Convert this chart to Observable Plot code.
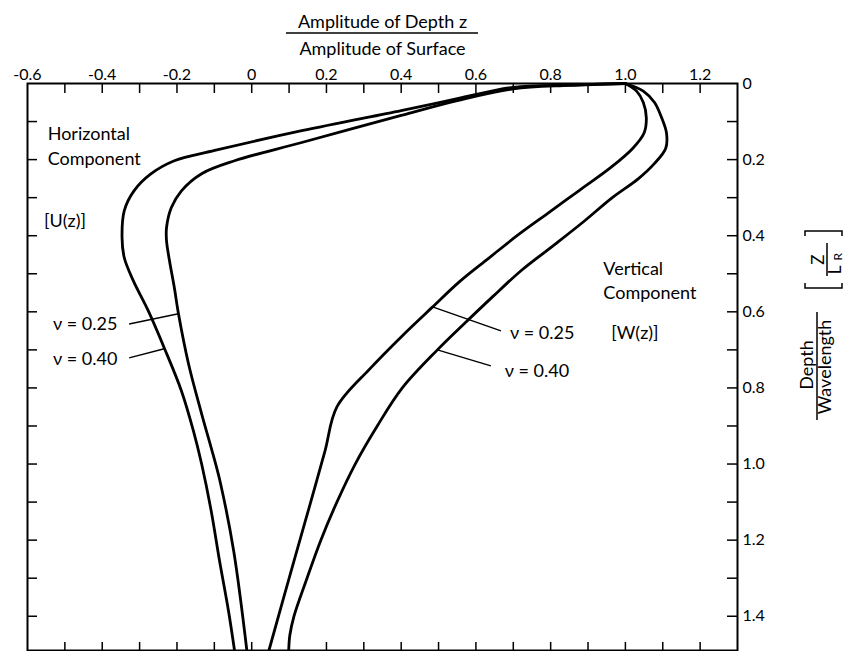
<!DOCTYPE html>
<html><head><meta charset="utf-8">
<script src="https://cdn.jsdelivr.net/npm/d3@7"></script>
<script src="https://cdn.jsdelivr.net/npm/@observablehq/plot@0.6"></script>
<style>
  html,body{margin:0;padding:0;background:#fff;}
  #chart svg{display:block;}
</style>
</head><body><div id="chart"></div>
<script>
// ---- Data (amplitude ratio vs depth/wavelength) ----
// Horizontal component U(z), Poisson's ratio 0.40 (outer curve)
const depthU40 = [0, 0.004, 0.010, 0.040, 0.071, 0.124, 0.176, 0.203, 0.237, 0.282, 0.334, 0.405, 0.458, 0.518, 0.597, 0.695, 0.808, 0.913, 1.0, 1.12, 1.255, 1.387, 1.49];
const ampU40   = [1.0, 0.85, 0.70, 0.55, 0.40, 0.134, -0.099, -0.207, -0.269, -0.315, -0.341, -0.347, -0.341, -0.317, -0.277, -0.234, -0.188, -0.156, -0.134, -0.109, -0.086, -0.062, -0.046];
// Horizontal component U(z), Poisson's ratio 0.25 (inner curve)
const depthU25 = [0, 0.005, 0.014, 0.045, 0.084, 0.155, 0.203, 0.237, 0.282, 0.326, 0.379, 0.413, 0.466, 0.537, 0.605, 0.737, 0.868, 0.98, 1.053, 1.23, 1.49];
const ampU25   = [1.0, 0.85, 0.70, 0.55, 0.40, 0.134, -0.046, -0.134, -0.188, -0.215, -0.228, -0.228, -0.220, -0.207, -0.196, -0.169, -0.134, -0.102, -0.083, -0.048, -0.013];
// Vertical component W(z), Poisson's ratio 0.25 (inner curve)
const depthW25 = [0, 0.02, 0.05, 0.09, 0.13, 0.17, 0.22, 0.28, 0.34, 0.40, 0.46, 0.52, 0.589, 0.658, 0.75, 0.85, 0.966, 1.11, 1.255, 1.49];
const ampW25   = [1.0, 1.03, 1.048, 1.056, 1.05, 1.02, 0.962, 0.878, 0.794, 0.71, 0.633, 0.557, 0.482, 0.408, 0.316, 0.228, 0.196, 0.155, 0.113, 0.046];
// Vertical component W(z), Poisson's ratio 0.40 (outer curve)
const depthW40 = [0, 0.02, 0.05, 0.09, 0.13, 0.17, 0.21, 0.25, 0.30, 0.36, 0.42, 0.49, 0.56, 0.63, 0.70, 0.80, 0.90, 1.0, 1.10, 1.20, 1.30, 1.40, 1.45, 1.49];
const ampW40   = [1.0, 1.048, 1.078, 1.097, 1.110, 1.108, 1.078, 1.035, 0.965, 0.892, 0.815, 0.723, 0.645, 0.570, 0.497, 0.403, 0.336, 0.277, 0.228, 0.185, 0.148, 0.113, 0.102, 0.099];

// Axis ticks and labels
const xTickValues = [-0.6, -0.4, -0.2, 0, 0.2, 0.4, 0.6, 0.8, 1.0, 1.2];
const xTickLabels = ["-0.6", "-0.4", "-0.2", "0", "0.2", "0.4", "0.6", "0.8", "1.0", "1.2"];
const xMinorTicks = [-0.5, -0.4, -0.3, -0.2, -0.1, 0, 0.1, 0.2, 0.3, 0.4, 0.5, 0.6, 0.7, 0.8, 0.9, 1.0, 1.1, 1.2];
const yTickValues = [0, 0.2, 0.4, 0.6, 0.8, 1.0, 1.2, 1.4];
const yTickLabels = ["0", "0.2", "0.4", "0.6", "0.8", "1.0", "1.2", "1.4"];
const yMinorTicks = [0.1, 0.2, 0.3, 0.4, 0.5, 0.6, 0.7, 0.8, 0.9, 1.0, 1.1, 1.2, 1.3, 1.4];

// Annotations (positions in data units: amplitude, depth)
const noteText  = ["Horizontal", "Component", "[U(z)]", "ν = 0.25", "ν = 0.40", "Vertical", "Component", "[W(z)]", "ν = 0.25", "ν = 0.40"];
const noteAmp   = [-0.546, -0.546, -0.556, -0.532, -0.532, 0.941, 0.941, 0.962, 0.691, 0.677];
const noteDepth = [0.134, 0.200, 0.361, 0.632, 0.724, 0.487, 0.550, 0.655, 0.655, 0.755];
// Leader lines from labels to curves
const leadAmp1   = [-0.328, -0.328, 0.484, 0.497];
const leadDepth1 = [0.632, 0.721, 0.587, 0.700];
const leadAmp2   = [-0.196, -0.234, 0.667, 0.640];
const leadDepth2 = [0.605, 0.697, 0.650, 0.742];

// ---- Build tables ----
const series = [
  ["U, ν=0.40", depthU40, ampU40],
  ["U, ν=0.25", depthU25, ampU25],
  ["W, ν=0.25", depthW25, ampW25],
  ["W, ν=0.40", depthW40, ampW40]
];
const curves = series.flatMap(([name, D, A]) => D.map((d, i) => ({series: name, depth: d, amp: A[i]})));
const notes = noteText.map((t, i) => ({text: t, amp: noteAmp[i], depth: noteDepth[i]}));
const leaders = leadAmp1.map((a, i) => ({x1: a, y1: leadDepth1[i], x2: leadAmp2[i], y2: leadDepth2[i]}));
const xLab = new Map(xTickValues.map((v, i) => [v, xTickLabels[i]]));
const yLab = new Map(yTickValues.map((v, i) => [v, yTickLabels[i]]));

const W = 844, H = 651;
const mL = 27, mR = 107, mT = 83, mB = 1;
const innerW = W - mL - mR, innerH = H - mT - mB;

const rightTitle = {frameAnchor: "right", rotate: -90, textAnchor: "middle", fill: "#000"};

const plot = Plot.plot({
  width: W, height: H,
  marginLeft: mL, marginRight: mR, marginTop: mT, marginBottom: mB,
  style: {fontFamily: "Lato, 'Open Sans', sans-serif", fontSize: "16px", color: "#000", background: "#fff"},
  x: {domain: [-0.6, 1.3]},
  y: {domain: [0, 1.49], reverse: true},
  marks: [
    Plot.ruleX(xMinorTicks, {x: d => d, insetBottom: innerH - 10, stroke: "#000", strokeWidth: 1.5}),
    Plot.ruleX(xMinorTicks, {x: d => d, insetTop: innerH - 8, stroke: "#000", strokeWidth: 1.5}),
    Plot.ruleY(yMinorTicks, {y: d => d, insetRight: innerW - 10, stroke: "#000", strokeWidth: 1.5}),
    Plot.ruleY(yMinorTicks, {y: d => d, insetLeft: innerW - 10, stroke: "#000", strokeWidth: 1.5}),
    Plot.frame({stroke: "#000", strokeWidth: 2}),
    Plot.axisX(xTickValues, {anchor: "top", tickSize: 0, tickPadding: 4, tickFormat: d => xLab.get(d), fontSize: 16, label: null}),
    Plot.axisY(yTickValues, {anchor: "right", tickSize: 0, tickPadding: 5, tickFormat: d => yLab.get(d), fontSize: 16, label: null}),
    Plot.line(curves, {x: "amp", y: "depth", z: "series", curve: "catmull-rom", stroke: "#000", strokeWidth: 2.8}),
    Plot.link(leaders, {x1: "x1", y1: "y1", x2: "x2", y2: "y2", stroke: "#000", strokeWidth: 1.5}),
    Plot.text(notes, {x: "amp", y: "depth", text: "text", textAnchor: "start", lineAnchor: "middle", fontSize: 18, fill: "#000"}),
    Plot.text(["Amplitude of Depth z"], {frameAnchor: "top", dy: -56, lineAnchor: "bottom", fontSize: 18, fill: "#000"}),
    Plot.text(["Amplitude of Surface"], {frameAnchor: "top", dy: -29, lineAnchor: "bottom", fontSize: 18, fill: "#000"}),
    Plot.text(["Depth"], {...rightTitle, y: [0.74], dx: 75, lineAnchor: "bottom", fontSize: 18}),
    Plot.text(["Wavelength"], {...rightTitle, y: [0.745], dx: 81, lineAnchor: "top", fontSize: 18}),
    Plot.text(["Z"], {...rightTitle, y: [0.463], dx: 86, lineAnchor: "bottom", fontSize: 17}),
    Plot.text(["L"], {...rightTitle, y: [0.49], dx: 91, lineAnchor: "top", fontSize: 17}),
    Plot.text(["R"], {...rightTitle, y: [0.455], dx: 96, lineAnchor: "top", fontSize: 12})
  ]
});

document.getElementById("chart").appendChild(plot);

// fraction bars and brackets of the axis titles
const svg = d3.select(plot);
const cx = (mL + W - mR) / 2;
const g = svg.append("g").attr("stroke", "#000").attr("fill", "none").attr("stroke-width", 1.5);
g.append("line").attr("x1", cx - 96).attr("x2", cx + 96).attr("y1", 33).attr("y2", 33);
g.append("line").attr("x1", 817).attr("x2", 817).attr("y1", 312).attr("y2", 420);
g.append("line").attr("x1", 827).attr("x2", 827).attr("y1", 243).attr("y2", 276);
g.append("path").attr("d", "M805,236 L805,231 L842,231 L842,236");
g.append("path").attr("d", "M805,283 L805,288 L842,288 L842,283");
</script></body></html>
